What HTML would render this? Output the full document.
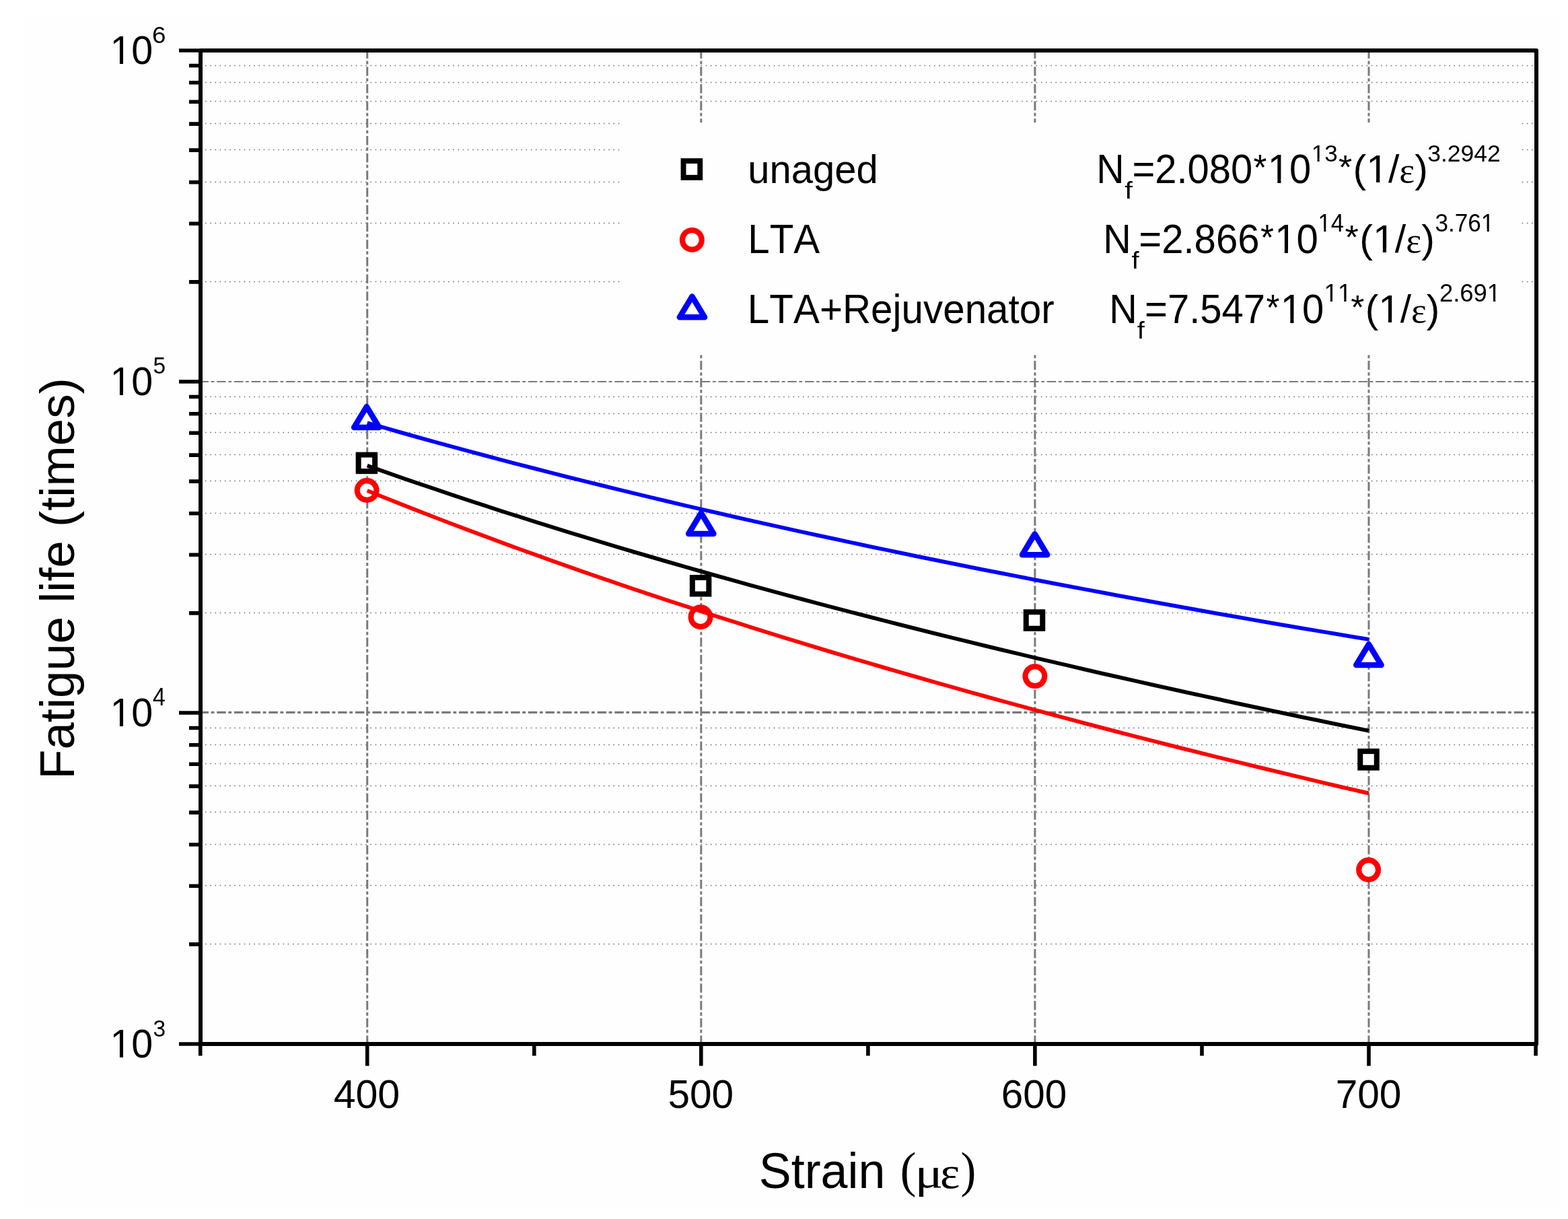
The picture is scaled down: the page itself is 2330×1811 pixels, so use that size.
<!DOCTYPE html>
<html><head><meta charset="utf-8"><title>Fatigue life vs strain</title>
<style>html,body{margin:0;padding:0;background:#fff;overflow:hidden;width:2330px;height:1811px;}svg{display:block;}text{font-kerning:none;}</style></head>
<body><svg width="2330" height="1811" viewBox="0 0 2330 1811">
<rect x="0" y="0" width="2330" height="1811" fill="#ffffff"/>
<rect x="37" y="21" width="2280" height="1770" fill="#fefefe"/>
<path d="M298.0 1402.5H2280.0 M298.0 1315.5H2280.0 M298.0 1254.5H2280.0 M298.0 1206.5H2280.0 M298.0 1167.5H2280.0 M298.0 1134.5H2280.0 M298.0 1106.5H2280.0 M298.0 1081.5H2280.0 M298.0 910.5H2280.0 M298.0 823.5H2280.0 M298.0 762.5H2280.0 M298.0 714.5H2280.0 M298.0 675.5H2280.0 M298.0 642.5H2280.0 M298.0 614.5H2280.0 M298.0 589.5H2280.0 M298.0 418.5H2280.0 M298.0 331.5H2280.0 M298.0 270.5H2280.0 M298.0 222.5H2280.0 M298.0 183.5H2280.0 M298.0 150.5H2280.0 M298.0 122.5H2280.0 M298.0 97.5H2280.0" stroke="#666666" stroke-width="1.5" stroke-dasharray="1.5 5.72" stroke-dashoffset="0.2" fill="none"/>
<path d="M298.0 567.0H2280.0" stroke="#7a7a7a" stroke-width="2.2" stroke-dasharray="13.5 3.6 4.8 3.8" stroke-dashoffset="1.5" fill="none"/>
<path d="M298.0 1058.3H2280.0" stroke="#7a7a7a" stroke-width="3.2" stroke-dasharray="13.5 3.6 4.8 3.8" stroke-dashoffset="1.5" fill="none"/>
<path d="M545.7 75.0V1548.0 M1041.8 75.0V1548.0 M1537.9 75.0V1548.0 M2034.0 75.0V1548.0" stroke="#7a7a7a" stroke-width="3" stroke-dasharray="13.5 3.6 4.8 3.8" stroke-dashoffset="1.5" fill="none"/>
<rect x="922" y="182" width="1338" height="345" fill="#fefefe"/>
<rect x="532.65" y="675.65" width="24.50" height="24.50" fill="#ffffff" stroke="#000" stroke-width="8.0"/>
<rect x="1028.85" y="858.05" width="24.50" height="24.50" fill="#ffffff" stroke="#000" stroke-width="8.0"/>
<rect x="1524.75" y="909.25" width="24.50" height="24.50" fill="#ffffff" stroke="#000" stroke-width="8.0"/>
<rect x="2021.25" y="1116.15" width="24.50" height="24.50" fill="#ffffff" stroke="#000" stroke-width="8.0"/>
<circle cx="545.10" cy="728.50" r="14.40" fill="#ffffff" stroke="#ff0000" stroke-width="8.1"/>
<circle cx="1041.00" cy="916.70" r="14.40" fill="#ffffff" stroke="#ff0000" stroke-width="8.1"/>
<circle cx="1537.90" cy="1004.60" r="14.40" fill="#ffffff" stroke="#ff0000" stroke-width="8.1"/>
<circle cx="2033.60" cy="1292.30" r="14.40" fill="#ffffff" stroke="#ff0000" stroke-width="8.1"/>
<path d="M544.80 604.10L563.43 634.95L526.17 634.95Z" fill="#ffffff" stroke="#0000ff" stroke-width="8.5" stroke-linejoin="round"/>
<path d="M1041.80 762.10L1060.43 792.95L1023.17 792.95Z" fill="#ffffff" stroke="#0000ff" stroke-width="8.5" stroke-linejoin="round"/>
<path d="M1537.60 793.30L1556.23 824.15L1518.97 824.15Z" fill="#ffffff" stroke="#0000ff" stroke-width="8.5" stroke-linejoin="round"/>
<path d="M2033.90 957.20L2052.53 988.05L2015.27 988.05Z" fill="#ffffff" stroke="#0000ff" stroke-width="8.5" stroke-linejoin="round"/>
<polyline points="545.7,691.8 570.5,700.5 595.3,709.2 620.1,717.7 644.9,726.1 669.7,734.5 694.5,742.7 719.3,750.8 744.1,758.9 768.9,766.8 793.8,774.7 818.6,782.5 843.4,790.2 868.2,797.8 893.0,805.3 917.8,812.8 942.6,820.1 967.4,827.4 992.2,834.6 1017.0,841.8 1041.8,848.9 1066.6,855.9 1091.4,862.8 1116.2,869.7 1141.0,876.5 1165.8,883.2 1190.6,889.9 1215.4,896.5 1240.2,903.0 1265.0,909.5 1289.9,915.9 1314.7,922.3 1339.5,928.6 1364.3,934.9 1389.1,941.1 1413.9,947.2 1438.7,953.3 1463.5,959.4 1488.3,965.4 1513.1,971.3 1537.9,977.2 1562.7,983.0 1587.5,988.8 1612.3,994.6 1637.1,1000.3 1661.9,1005.9 1686.7,1011.5 1711.5,1017.1 1736.3,1022.6 1761.1,1028.1 1786.0,1033.5 1810.8,1038.9 1835.6,1044.3 1860.4,1049.6 1885.2,1054.9 1910.0,1060.1 1934.8,1065.3 1959.6,1070.4 1984.4,1075.6 2009.2,1080.6 2034.0,1085.7" stroke="#000000" stroke-width="5.8" fill="none" stroke-linejoin="round"/>
<polyline points="545.7,728.9 570.5,738.9 595.3,748.7 620.1,758.5 644.9,768.1 669.7,777.6 694.5,787.0 719.3,796.3 744.1,805.5 768.9,814.6 793.8,823.6 818.6,832.4 843.4,841.2 868.2,849.9 893.0,858.5 917.8,867.0 942.6,875.4 967.4,883.7 992.2,892.0 1017.0,900.1 1041.8,908.2 1066.6,916.2 1091.4,924.1 1116.2,932.0 1141.0,939.7 1165.8,947.4 1190.6,955.1 1215.4,962.6 1240.2,970.1 1265.0,977.5 1289.9,984.8 1314.7,992.1 1339.5,999.3 1364.3,1006.4 1389.1,1013.5 1413.9,1020.5 1438.7,1027.5 1463.5,1034.4 1488.3,1041.2 1513.1,1048.0 1537.9,1054.7 1562.7,1061.4 1587.5,1068.0 1612.3,1074.6 1637.1,1081.1 1661.9,1087.6 1686.7,1094.0 1711.5,1100.3 1736.3,1106.6 1761.1,1112.9 1786.0,1119.1 1810.8,1125.2 1835.6,1131.3 1860.4,1137.4 1885.2,1143.4 1910.0,1149.4 1934.8,1155.3 1959.6,1161.2 1984.4,1167.1 2009.2,1172.9 2034.0,1178.6" stroke="#ff0000" stroke-width="5.8" fill="none" stroke-linejoin="round"/>
<polyline points="545.7,628.2 570.5,635.3 595.3,642.4 620.1,649.4 644.9,656.2 669.7,663.0 694.5,669.8 719.3,676.4 744.1,683.0 768.9,689.5 793.8,695.9 818.6,702.3 843.4,708.6 868.2,714.8 893.0,720.9 917.8,727.0 942.6,733.0 967.4,739.0 992.2,744.9 1017.0,750.7 1041.8,756.5 1066.6,762.2 1091.4,767.9 1116.2,773.5 1141.0,779.0 1165.8,784.5 1190.6,790.0 1215.4,795.4 1240.2,800.7 1265.0,806.0 1289.9,811.3 1314.7,816.5 1339.5,821.7 1364.3,826.8 1389.1,831.8 1413.9,836.9 1438.7,841.8 1463.5,846.8 1488.3,851.7 1513.1,856.5 1537.9,861.3 1562.7,866.1 1587.5,870.8 1612.3,875.5 1637.1,880.2 1661.9,884.8 1686.7,889.4 1711.5,893.9 1736.3,898.4 1761.1,902.9 1786.0,907.4 1810.8,911.8 1835.6,916.1 1860.4,920.5 1885.2,924.8 1910.0,929.1 1934.8,933.3 1959.6,937.5 1984.4,941.7 2009.2,945.8 2034.0,950.0" stroke="#0000ff" stroke-width="5.8" fill="none" stroke-linejoin="round"/>
<rect x="298.0" y="75.0" width="1985.0" height="1476.0" fill="none" stroke="#000" stroke-width="6" stroke-linejoin="round"/>
<path d="M298.0 1551.0H266 M298.0 1059.0H266 M298.0 567.0H266 M298.0 75.0H266 M298.0 1402.9H281 M298.0 1316.3H281 M298.0 1254.8H281 M298.0 1207.1H281 M298.0 1168.1H281 M298.0 1135.2H281 M298.0 1106.7H281 M298.0 1081.5H281 M298.0 910.9H281 M298.0 824.3H281 M298.0 762.8H281 M298.0 715.1H281 M298.0 676.1H281 M298.0 643.2H281 M298.0 614.7H281 M298.0 589.5H281 M298.0 418.9H281 M298.0 332.3H281 M298.0 270.8H281 M298.0 223.1H281 M298.0 184.1H281 M298.0 151.2H281 M298.0 122.7H281 M298.0 97.5H281 M545.7 1551.0V1583.5 M1041.8 1551.0V1583.5 M1537.9 1551.0V1583.5 M2034.0 1551.0V1583.5 M297.7 1551.0V1568.5 M793.8 1551.0V1568.5 M1289.9 1551.0V1568.5 M1786.0 1551.0V1568.5 M2282.1 1551.0V1568.5" stroke="#000" stroke-width="5.6" stroke-linecap="butt" fill="none"/>
<text transform="matrix(0.9894 0 0 1.0268 163.46 95.49)" font-family="'Liberation Sans', Arial, sans-serif" font-size="58">10</text>
<g transform="matrix(0.9894 0 0 1.0268 163.46 95.49)"><g fill="#fefefe"><rect x="3.29" y="-5.93" width="11.30" height="7.33"/><rect x="19.71" y="-5.93" width="10.85" height="7.33"/></g></g>
<text transform="matrix(0.9894 0 0 1.0268 163.46 587.49)" font-family="'Liberation Sans', Arial, sans-serif" font-size="58">10</text>
<g transform="matrix(0.9894 0 0 1.0268 163.46 587.49)"><g fill="#fefefe"><rect x="3.29" y="-5.93" width="11.30" height="7.33"/><rect x="19.71" y="-5.93" width="10.85" height="7.33"/></g></g>
<text transform="matrix(0.9894 0 0 1.0268 163.46 1079.49)" font-family="'Liberation Sans', Arial, sans-serif" font-size="58">10</text>
<g transform="matrix(0.9894 0 0 1.0268 163.46 1079.49)"><g fill="#fefefe"><rect x="3.29" y="-5.93" width="11.30" height="7.33"/><rect x="19.71" y="-5.93" width="10.85" height="7.33"/></g></g>
<text transform="matrix(0.9894 0 0 1.0268 163.46 1571.49)" font-family="'Liberation Sans', Arial, sans-serif" font-size="58">10</text>
<g transform="matrix(0.9894 0 0 1.0268 163.46 1571.49)"><g fill="#fefefe"><rect x="3.29" y="-5.93" width="11.30" height="7.33"/><rect x="19.71" y="-5.93" width="10.85" height="7.33"/></g></g>
<text transform="matrix(1.0523 0 0 1.0206 226.06 63.84)" font-family="'Liberation Sans', Arial, sans-serif" font-size="35">6</text>
<text transform="matrix(0.9576 0 0 1.0186 227.56 555.45)" font-family="'Liberation Sans', Arial, sans-serif" font-size="35">5</text>
<text transform="matrix(0.9690 0 0 1.0292 227.07 1047.70)" font-family="'Liberation Sans', Arial, sans-serif" font-size="35">4</text>
<text transform="matrix(0.9576 0 0 1.0222 227.56 1539.74)" font-family="'Liberation Sans', Arial, sans-serif" font-size="35">3</text>
<text transform="matrix(1.0188 0 0 1.0268 495.63 1646.49)" font-family="'Liberation Sans', Arial, sans-serif" font-size="58">400</text>
<text transform="matrix(1.0098 0 0 1.0268 992.38 1646.49)" font-family="'Liberation Sans', Arial, sans-serif" font-size="58">500</text>
<text transform="matrix(1.0066 0 0 1.0268 1487.78 1646.49)" font-family="'Liberation Sans', Arial, sans-serif" font-size="58">600</text>
<text transform="matrix(1.0109 0 0 1.0268 1984.67 1646.49)" font-family="'Liberation Sans', Arial, sans-serif" font-size="58">700</text>
<text transform="translate(109.96 1157.80) rotate(-90) scale(1.0003 0.9896)" font-family="'Liberation Sans', Arial, sans-serif" font-size="72.5">Fatigue life (times)</text>
<text transform="matrix(0.9981 0 0 1.0330 1127.76 1764.98)" font-family="'Liberation Sans', Arial, sans-serif" font-size="72">Strain</text>
<text transform="matrix(1.0000 0 0 1.0308 1337.45 1763.18)" font-family="'Liberation Serif', 'Times New Roman', serif" font-size="72">(</text>
<text transform="matrix(1.0833 0 0 0.8907 1359.47 1764.19)" font-family="'Liberation Serif', 'Times New Roman', serif" font-size="72">μ</text>
<text transform="matrix(0.9686 0 0 0.9266 1396.94 1765.41)" font-family="'Liberation Serif', 'Times New Roman', serif" font-size="72">ε</text>
<text transform="matrix(0.9514 0 0 1.0308 1427.56 1763.18)" font-family="'Liberation Serif', 'Times New Roman', serif" font-size="72">)</text>
<text transform="matrix(0.9912 0 0 0.9972 1111.18 272.03)" font-family="'Liberation Sans', Arial, sans-serif" font-size="58.5">unaged</text>
<text transform="matrix(0.9966 0 0 1.0410 1111.27 375.90)" font-family="'Liberation Sans', Arial, sans-serif" font-size="58.5">LTA</text>
<text transform="matrix(0.9979 0 0 1.0433 1110.86 480.08)" font-family="'Liberation Sans', Arial, sans-serif" font-size="58.5">LTA+Rejuvenator</text>
<text transform="matrix(0.9786 0 0 1.0435 1629.20 271.90)" font-family="'Liberation Sans', Arial, sans-serif" font-size="58.5">N</text>
<text transform="matrix(1.2000 0 0 0.9782 1671.30 294.80)" font-family="'Liberation Sans', Arial, sans-serif" font-size="35">f</text>
<text transform="matrix(0.9903 0 0 1.0448 1682.38 272.48)" font-family="'Liberation Sans', Arial, sans-serif" font-size="58.5">=2.080<tspan dx="1.37" dy="-4.85" font-size="51.5">*</tspan><tspan dx="1.37" dy="4.85">10</tspan></text>
<g transform="matrix(0.9903 0 0 1.0448 1682.38 272.48)"><g fill="#fefefe"><rect x="206.64" y="-5.97" width="11.40" height="7.37"/><rect x="223.20" y="-5.97" width="10.94" height="7.37"/></g></g>
<text transform="matrix(1.0000 0 0 1.0141 1948.75 239.75)" font-family="'Liberation Sans', Arial, sans-serif" font-size="35">13</text>
<g transform="matrix(1.0000 0 0 1.0141 1948.75 239.75)"><g fill="#fefefe"><rect x="1.98" y="-4.21" width="6.82" height="5.61"/><rect x="11.89" y="-4.21" width="6.55" height="5.61"/></g></g>
<text transform="matrix(1.0075 0 0 0.9806 1987.63 271.13)" font-family="'Liberation Sans', Arial, sans-serif" font-size="58.5"><tspan dx="1.37" dy="-4.85" font-size="51.5">*</tspan><tspan dx="1.37" dy="4.85">(1/</tspan><tspan font-family="'Liberation Serif', 'Times New Roman', serif" font-size="54">ε</tspan>)</text>
<g transform="matrix(1.0075 0 0 0.9806 1987.63 271.13)"><g fill="#fefefe"><rect x="45.56" y="-5.97" width="11.40" height="7.37"/><rect x="62.13" y="-5.97" width="10.94" height="7.37"/></g></g>
<text transform="matrix(1.0140 0 0 1.0182 2121.28 239.75)" font-family="'Liberation Sans', Arial, sans-serif" font-size="35">3.2942</text>
<text transform="matrix(0.9832 0 0 1.0460 1639.23 376.00)" font-family="'Liberation Sans', Arial, sans-serif" font-size="58.5">N</text>
<text transform="matrix(1.1459 0 0 0.9901 1681.53 399.20)" font-family="'Liberation Sans', Arial, sans-serif" font-size="35">f</text>
<text transform="matrix(0.9930 0 0 1.0400 1692.27 376.28)" font-family="'Liberation Sans', Arial, sans-serif" font-size="58.5">=2.866<tspan dx="1.37" dy="-4.85" font-size="51.5">*</tspan><tspan dx="1.37" dy="4.85">10</tspan></text>
<g transform="matrix(0.9930 0 0 1.0400 1692.27 376.28)"><g fill="#fefefe"><rect x="206.64" y="-5.97" width="11.40" height="7.37"/><rect x="223.20" y="-5.97" width="10.94" height="7.37"/></g></g>
<text transform="matrix(0.9899 0 0 1.0417 1958.58 344.00)" font-family="'Liberation Sans', Arial, sans-serif" font-size="35">14</text>
<g transform="matrix(0.9899 0 0 1.0417 1958.58 344.00)"><g fill="#fefefe"><rect x="1.98" y="-4.21" width="6.82" height="5.61"/><rect x="11.89" y="-4.21" width="6.55" height="5.61"/></g></g>
<text transform="matrix(1.0122 0 0 0.9806 1997.12 375.13)" font-family="'Liberation Sans', Arial, sans-serif" font-size="58.5"><tspan dx="1.37" dy="-4.85" font-size="51.5">*</tspan><tspan dx="1.37" dy="4.85">(1/</tspan><tspan font-family="'Liberation Serif', 'Times New Roman', serif" font-size="54">ε</tspan>)</text>
<g transform="matrix(1.0122 0 0 0.9806 1997.12 375.13)"><g fill="#fefefe"><rect x="45.56" y="-5.97" width="11.40" height="7.37"/><rect x="62.13" y="-5.97" width="10.94" height="7.37"/></g></g>
<text transform="matrix(1.0038 0 0 1.0343 2132.49 344.34)" font-family="'Liberation Sans', Arial, sans-serif" font-size="35">3.761</text>
<g transform="matrix(1.0038 0 0 1.0343 2132.49 344.34)"><g fill="#fefefe"><rect x="70.10" y="-4.21" width="6.82" height="5.61"/><rect x="80.01" y="-4.21" width="6.55" height="5.61"/></g></g>
<text transform="matrix(0.9832 0 0 1.0484 1648.13 480.30)" font-family="'Liberation Sans', Arial, sans-serif" font-size="58.5">N</text>
<text transform="matrix(1.1351 0 0 0.9782 1689.63 502.90)" font-family="'Liberation Sans', Arial, sans-serif" font-size="35">f</text>
<text transform="matrix(0.9918 0 0 1.0400 1701.07 480.48)" font-family="'Liberation Sans', Arial, sans-serif" font-size="58.5">=7.547<tspan dx="1.37" dy="-4.85" font-size="51.5">*</tspan><tspan dx="1.37" dy="4.85">10</tspan></text>
<g transform="matrix(0.9918 0 0 1.0400 1701.07 480.48)"><g fill="#fefefe"><rect x="206.64" y="-5.97" width="11.40" height="7.37"/><rect x="223.20" y="-5.97" width="10.94" height="7.37"/></g></g>
<text transform="matrix(1.0536 0 0 1.0583 1967.48 448.30)" font-family="'Liberation Sans', Arial, sans-serif" font-size="35">11</text>
<g transform="matrix(1.0536 0 0 1.0583 1967.48 448.30)"><g fill="#fefefe"><rect x="1.98" y="-4.21" width="6.82" height="5.61"/><rect x="11.89" y="-4.21" width="6.55" height="5.61"/><rect x="21.45" y="-4.21" width="6.82" height="5.61"/><rect x="31.36" y="-4.21" width="6.55" height="5.61"/></g></g>
<text transform="matrix(1.0020 0 0 0.9788 2005.85 479.15)" font-family="'Liberation Sans', Arial, sans-serif" font-size="58.5"><tspan dx="1.37" dy="-4.85" font-size="51.5">*</tspan><tspan dx="1.37" dy="4.85">(1/</tspan><tspan font-family="'Liberation Serif', 'Times New Roman', serif" font-size="54">ε</tspan>)</text>
<g transform="matrix(1.0020 0 0 0.9788 2005.85 479.15)"><g fill="#fefefe"><rect x="45.56" y="-5.97" width="11.40" height="7.37"/><rect x="62.13" y="-5.97" width="10.94" height="7.37"/></g></g>
<text transform="matrix(1.0403 0 0 1.0384 2138.98 448.34)" font-family="'Liberation Sans', Arial, sans-serif" font-size="35">2.691</text>
<g transform="matrix(1.0403 0 0 1.0384 2138.98 448.34)"><g fill="#fefefe"><rect x="70.10" y="-4.21" width="6.82" height="5.61"/><rect x="80.01" y="-4.21" width="6.55" height="5.61"/></g></g>
<rect x="1015.55" y="239.10" width="24.70" height="24.70" fill="#ffffff" stroke="#000" stroke-width="7.9"/>
<circle cx="1028.35" cy="356.40" r="14.40" fill="#ffffff" stroke="#ff0000" stroke-width="8.1"/>
<path d="M1028.45 440.50L1047.08 471.35L1009.82 471.35Z" fill="#ffffff" stroke="#0000ff" stroke-width="8.5" stroke-linejoin="round"/>
</svg></body></html>
